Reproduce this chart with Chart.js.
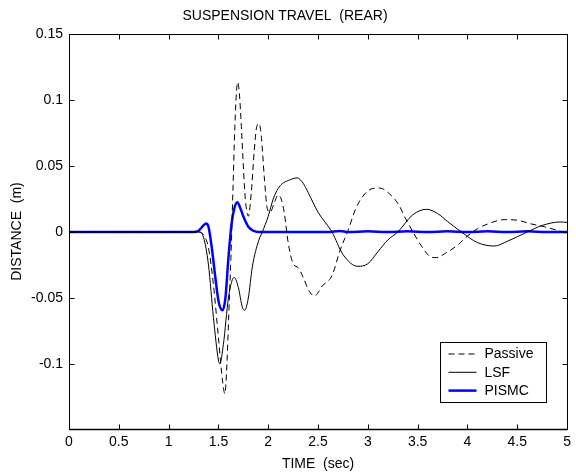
<!DOCTYPE html>
<html>
<head>
<meta charset="utf-8">
<title>Suspension travel (rear)</title>
<script src="https://cdn.jsdelivr.net/npm/chart.js@4/dist/chart.umd.min.js"></script>
<style>
  html, body { margin: 0; padding: 0; background: #fff; }
  #wrap { width: 576px; height: 475px; }
</style>
</head>
<body>
<div id="wrap"><canvas id="travelChart" width="576" height="475"></canvas></div>
<script>
'use strict';

// values (time in sec, distance in m)
var passiveT = [0, 1.3, 1.35, 1.4, 1.45, 1.5, 1.54, 1.565, 1.585, 1.605, 1.625, 1.645, 1.665, 1.68, 1.693,
  1.71, 1.73, 1.75, 1.77, 1.8, 1.83, 1.86, 1.885, 1.909, 1.93, 1.96, 1.99, 2.02, 2.06, 2.1, 2.13, 2.16,
  2.2, 2.25, 2.3, 2.36, 2.405, 2.465, 2.54, 2.64, 2.72, 2.8, 2.88, 2.97, 3.05, 3.12, 3.2, 3.303, 3.38,
  3.453, 3.55, 3.636, 3.686, 3.78, 3.9, 4.0, 4.1, 4.2, 4.37, 4.5, 4.63, 4.77, 4.9, 5.0];
var passiveV = [0, 0, -0.002, -0.012, -0.04, -0.08, -0.112, -0.1225, -0.1, -0.06, -0.02, 0.03, 0.08, 0.105, 0.1136,
  0.105, 0.08, 0.05, 0.025, 0.012, 0.03, 0.062, 0.08, 0.0821, 0.073, 0.042, 0.018, 0.015, 0.022, 0.028, 0.025, 0.015,
  -0.008, -0.024, -0.027, -0.036, -0.044, -0.0485, -0.041, -0.033, -0.014, 0.001, 0.018, 0.029, 0.033, 0.0333, 0.03, 0.0215, 0.01,
  0, -0.012, -0.019, -0.0194, -0.016, -0.01, -0.003, 0.0025, 0.006, 0.0094, 0.009, 0.0063, 0.004, 0.0013, -0.0012];

var lsfT = [0, 1.3, 1.35, 1.4, 1.45, 1.5, 1.514, 1.55, 1.6, 1.64, 1.66, 1.7, 1.74, 1.763, 1.8, 1.84, 1.905,
  1.94, 2.0, 2.05, 2.1, 2.14, 2.2, 2.29, 2.35, 2.4, 2.5, 2.64, 2.75, 2.9, 3.0, 3.1, 3.2, 3.3, 3.45, 3.59,
  3.7, 3.8, 3.94, 4.1, 4.27, 4.4, 4.6, 4.75, 4.93, 5.0];
var lsfV = [0, 0, -0.004, -0.025, -0.065, -0.097, -0.0997, -0.085, -0.05, -0.036, -0.0345, -0.042, -0.057, -0.0593, -0.05, -0.0265, -0.0063,
  0, 0.012, 0.025, 0.033, 0.0366, 0.039, 0.041, 0.037, 0.03, 0.015, 0, -0.017, -0.026, -0.024, -0.015, -0.006, 0, 0.013, 0.0172,
  0.014, 0.008, 0, -0.008, -0.0106, -0.007, 0, 0.005, 0.0076, 0.0073];

var pismcT = [0, 1.25, 1.3, 1.35, 1.375, 1.4, 1.43, 1.47, 1.5, 1.54, 1.57, 1.6, 1.63, 1.66, 1.69, 1.72,
  1.76, 1.8, 1.85, 1.9, 2.2, 2.6, 2.72, 2.8, 3.0, 3.2, 3.4, 3.6, 3.8, 4.0, 4.2, 4.4, 4.6, 4.8, 5.0];
var pismcV = [0, 0, 0.001, 0.005, 0.0064, 0.004, -0.01, -0.035, -0.052, -0.0593, -0.05, -0.02, 0.005, 0.018, 0.0225, 0.018,
  0.01, 0.004, 0.001, 0, 0, 0, 0.0008, 0, 0.0005, 0, 0.0005, 0, 0.0005, 0, 0.0005, 0, 0.0005, 0, 0];

var xTicks = [0, 0.5, 1, 1.5, 2, 2.5, 3, 3.5, 4, 4.5, 5];
var yTicks = [-0.1, -0.05, 0, 0.05, 0.1, 0.15];

var FONT = 'Arial, "Liberation Sans", Helvetica, sans-serif';

function pairs(ts, vs) {
  return ts.map(function (t, i) { return { x: t, y: vs[i] }; });
}

// MATLAB style box with inward ticks on all four sides, plus the legend box
var boxPlugin = {
  id: 'matlabBox',
  afterDatasetsDraw: function (chart) {
    var c = chart.ctx, a = chart.chartArea;
    var xs = chart.scales.x, ys = chart.scales.y;
    var L = Math.round(a.left) + 0.5, R = Math.round(a.right) + 0.5;
    var T = Math.round(a.top) + 0.5, B = Math.round(a.bottom) + 0.5;
    c.save();
    c.strokeStyle = '#000';
    c.lineWidth = 1;
    c.beginPath();
    xTicks.forEach(function (v) {
      var px = Math.round(xs.getPixelForValue(v)) + 0.5;
      c.moveTo(px, B); c.lineTo(px, B - 5);
      c.moveTo(px, T); c.lineTo(px, T + 5);
    });
    yTicks.forEach(function (v) {
      var py = Math.round(ys.getPixelForValue(v)) + 0.5;
      c.moveTo(L, py); c.lineTo(L + 5, py);
      c.moveTo(R, py); c.lineTo(R - 5, py);
    });
    c.stroke();
    c.strokeRect(L, T, R - L, B - T);
    c.lineWidth = 1.5;
    c.beginPath();
    c.moveTo(L, B); c.lineTo(R, B);
    c.stroke();

    // legend
    var lw = 106, lh = 60;
    var lx = Math.round(a.right - 21 - lw) + 0.5, ly = Math.round(a.bottom - 27 - lh) + 0.5;
    c.fillStyle = '#fff';
    c.fillRect(lx, ly, lw, lh);
    c.lineWidth = 1;
    c.strokeStyle = '#000';
    c.strokeRect(lx, ly, lw, lh);
    c.font = '14px ' + FONT;
    c.textBaseline = 'middle';
    c.textAlign = 'left';
    chart.data.datasets.forEach(function (ds, i) {
      var yy = ly + 11.5 + i * 18.3;
      c.save();
      c.strokeStyle = ds.borderColor;
      c.lineWidth = ds.borderWidth;
      c.setLineDash(ds.borderDash || []);
      c.beginPath();
      c.moveTo(lx + 8, yy); c.lineTo(lx + 36, yy);
      c.stroke();
      c.restore();
      c.fillStyle = '#000';
      c.fillText(ds.label, lx + 44, yy + 0.5);
    });
    c.restore();
  }
};

new Chart(document.getElementById('travelChart'), {
  type: 'line',
  data: {
    datasets: [
      {
        label: 'Passive',
        data: pairs(passiveT, passiveV),
        borderColor: '#000',
        borderWidth: 1,
        borderDash: [6, 4],
        pointRadius: 0,
        fill: false,
        cubicInterpolationMode: 'monotone'
      },
      {
        label: 'LSF',
        data: pairs(lsfT, lsfV),
        borderColor: '#000',
        borderWidth: 1,
        pointRadius: 0,
        fill: false,
        cubicInterpolationMode: 'monotone'
      },
      {
        label: 'PISMC',
        data: pairs(pismcT, pismcV),
        borderColor: '#0000ff',
        borderWidth: 2.5,
        pointRadius: 0,
        fill: false,
        cubicInterpolationMode: 'monotone'
      }
    ]
  },
  options: {
    responsive: false,
    animation: false,
    devicePixelRatio: 1,
    layout: { padding: { left: 0, right: 6, top: 0, bottom: 0 } },
    plugins: {
      legend: { display: false },
      tooltip: { enabled: false },
      title: {
        display: true,
        text: 'SUSPENSION TRAVEL  (REAR)',
        color: '#000',
        font: { family: FONT, size: 14, weight: 'normal' },
        padding: { top: 8, bottom: 9.2 }
      }
    },
    scales: {
      x: {
        type: 'linear',
        min: 0,
        max: 5,
        afterBuildTicks: function (s) { s.ticks = xTicks.map(function (v) { return { value: v }; }); },
        afterFit: function (s) { s.height = 46; },
        grid: { display: false, drawTicks: false },
        border: { display: false },
        ticks: {
          color: '#000',
          padding: 5,
          maxRotation: 0,
          autoSkip: false,
          font: { family: FONT, size: 14 },
          callback: function (v) { return String(Math.round(v * 10) / 10); }
        },
        title: {
          display: true,
          text: 'TIME  (sec)',
          color: '#000',
          font: { family: FONT, size: 14 },
          padding: { top: 0, bottom: 2.6 }
        }
      },
      y: {
        type: 'linear',
        min: -0.1492,
        max: 0.15,
        afterBuildTicks: function (s) { s.ticks = yTicks.map(function (v) { return { value: v }; }); },
        afterFit: function (s) { s.width = 69; },
        grid: { display: false, drawTicks: false },
        border: { display: false },
        ticks: {
          color: '#000',
          padding: 6,
          autoSkip: false,
          font: { family: FONT, size: 14 },
          callback: function (v) { return String(Math.round(v * 100) / 100); }
        },
        title: {
          display: true,
          text: 'DISTANCE  (m)',
          color: '#000',
          font: { family: FONT, size: 14 },
          padding: { top: 8.6, bottom: 0 }
        }
      }
    }
  },
  plugins: [boxPlugin]
});
</script>
</body>
</html>
